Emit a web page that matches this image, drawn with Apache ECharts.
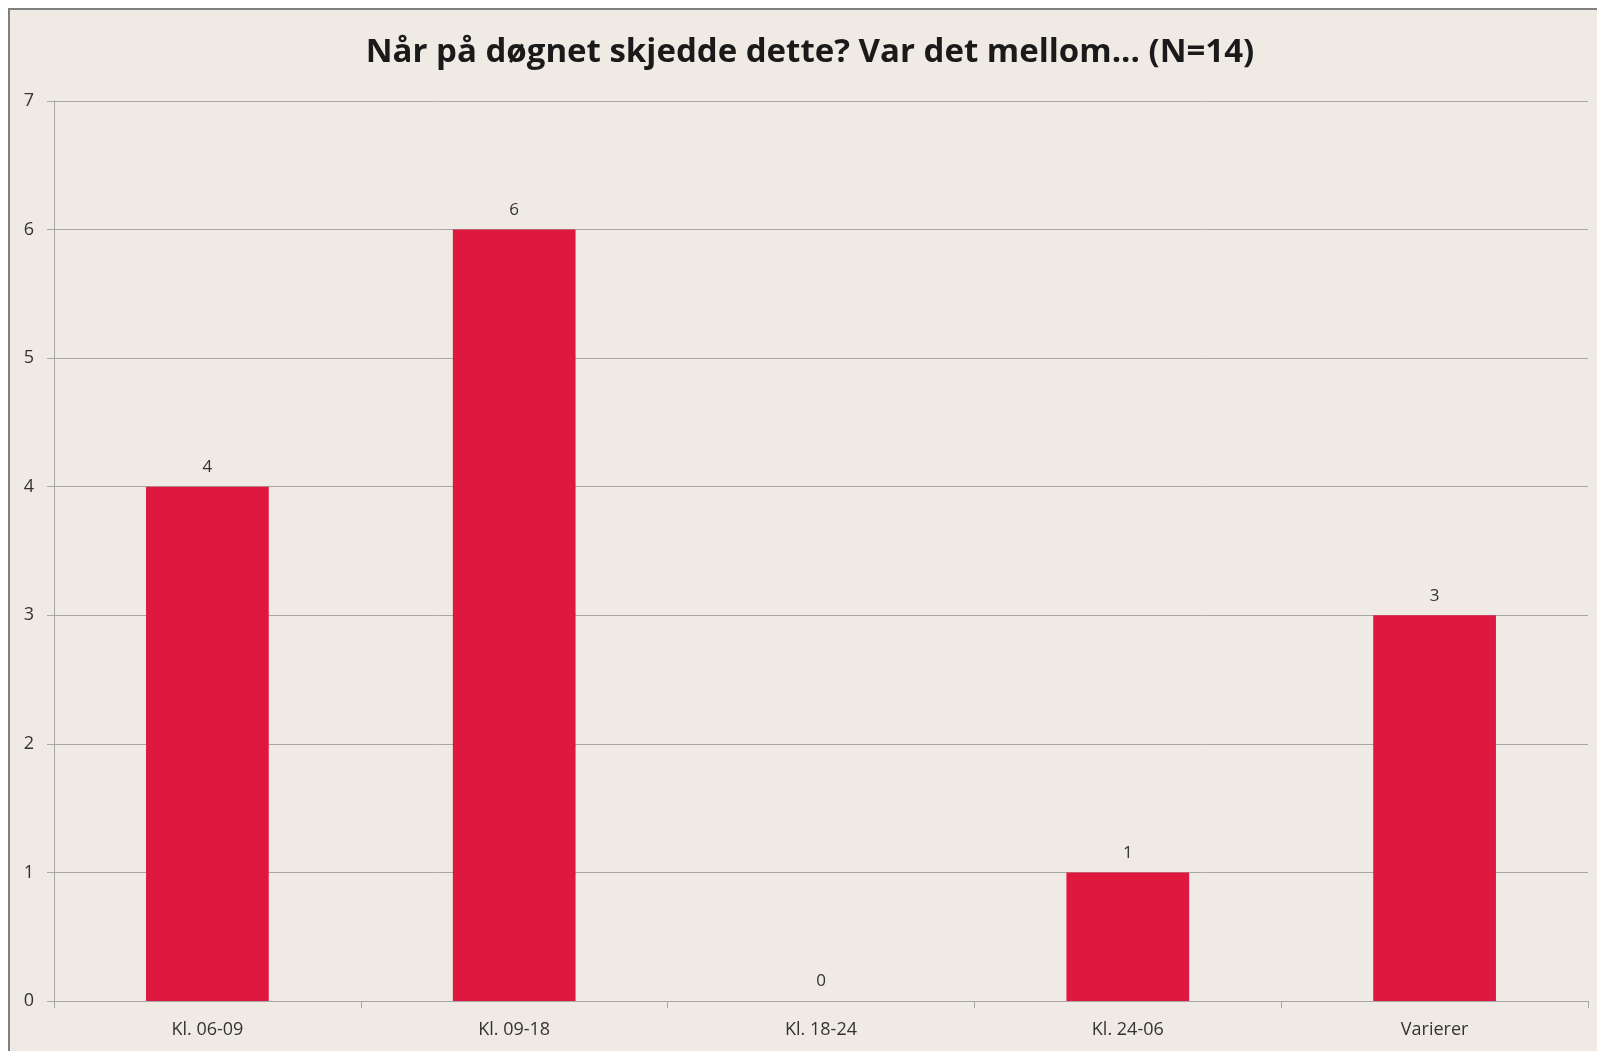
<!DOCTYPE html>
<html>
<head>
<meta charset="utf-8">
<script src="https://cdn.jsdelivr.net/npm/echarts@6/dist/echarts.min.js"></script>
<style>
  html, body { margin: 0; padding: 0; background: #fff; }
  #chart {
    position: absolute;
    left: 8px;
    top: 8px;
    width: 1589px;
    height: 1043px;
    border-top: 2px solid #808080;
    border-left: 2px solid #808080;
    background: #efebe4;
  }
</style>
</head>
<body>
<div id="chart"></div>
<script>
const categories = ["Kl. 06-09", "Kl. 09-18", "Kl. 18-24", "Kl. 24-06", "Varierer"];
const counts = [4, 6, 0, 1, 3];
const titleText = "Når på døgnet skjedde dette? Var det mellom... (N=14)";

const chart = echarts.init(document.getElementById("chart"), null, { renderer: "canvas" });

const axisGray = "#a6a6a6";

const option = {
  backgroundColor: "#efebe4",
  animation: false,
  title: {
    text: titleText,
    left: 795,
    textAlign: "center",
    top: 21,
    textStyle: {
      fontFamily: "Open Sans",
      fontWeight: "bold",
      fontSize: 33,
      color: "#1a1a1a",
    },
  },
  grid: {
    left: 44,
    right: 11,
    top: 91,
    bottom: 52,
  },
  xAxis: {
    type: "category",
    data: categories,
    axisLine: { lineStyle: { color: axisGray, width: 1 } },
    axisTick: { show: true, length: 7, lineStyle: { color: axisGray } },
    axisLabel: {
      color: "#333",
      fontFamily: "Open Sans",
      fontSize: 18,
      margin: 20,
    },
  },
  yAxis: {
    type: "value",
    min: 0,
    max: 7,
    interval: 1,
    axisLine: { show: true, lineStyle: { color: axisGray, width: 1 } },
    axisTick: { show: true, length: 7, lineStyle: { color: axisGray } },
    splitLine: { lineStyle: { color: axisGray, width: 1 } },
    axisLabel: {
      color: "#333",
      fontFamily: "Open Sans",
      fontSize: 18,
      margin: 20,
    },
  },
  series: [
    {
      type: "bar",
      data: counts,
      barWidth: "40%",
      itemStyle: { color: "#df1840" },
      label: {
        show: true,
        position: "top",
        distance: 11,
        color: "#333",
        fontFamily: "Open Sans",
        fontSize: 17,
      },
    },
  ],
};

chart.setOption(option);
window.addEventListener("resize", chart.resize);
</script>
</body>
</html>
